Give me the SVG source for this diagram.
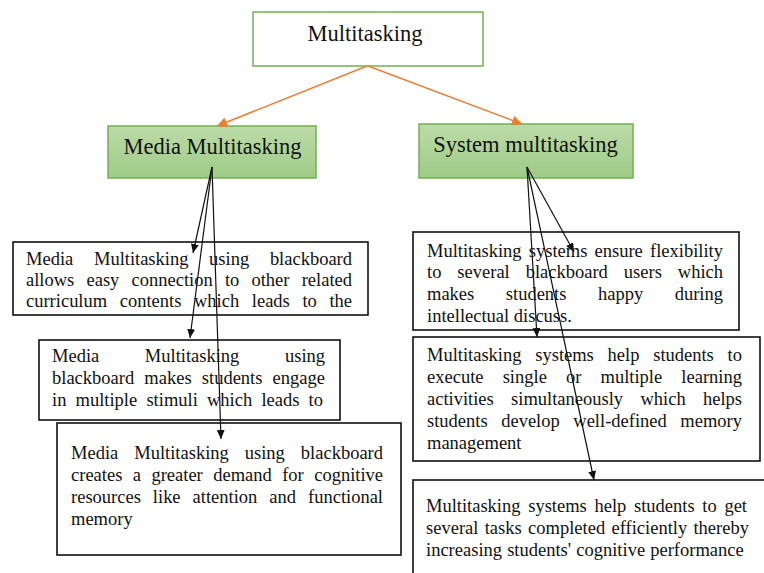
<svg xmlns="http://www.w3.org/2000/svg" width="764" height="573" viewBox="0 0 764 573">
  <style>
    .hdr { font-family: "Liberation Serif", "Times New Roman", serif; font-size: 22.5px; fill: #111; text-anchor: middle; }
    .body { font-family: "Liberation Serif", "Times New Roman", serif; font-size: 18.5px; fill: #111; }
    .gbox { fill: url(#green); stroke: #74b052; stroke-width: 1.5; }
    .wbox { fill: #fff; stroke: #74b052; stroke-width: 1.5; }
    .bbox { fill: #fff; stroke: #111; stroke-width: 1.6; }
    .orange { stroke: #ed7d31; stroke-width: 1.5; fill: none; marker-end: url(#arrO); }
    .black { stroke: #111; stroke-width: 1.2; fill: none; marker-end: url(#arrB); }
  </style>
  <defs>
    <linearGradient id="green" x1="0" y1="0" x2="0" y2="1">
      <stop offset="0" stop-color="#bcdba8"/>
      <stop offset="1" stop-color="#9ecb86"/>
    </linearGradient>
    <marker id="arrO" markerUnits="userSpaceOnUse" markerWidth="12" markerHeight="10" refX="10" refY="5" orient="auto">
      <path d="M0,0 L10,5 L0,10 Z" fill="#ed7d31"/>
    </marker>
    <marker id="arrB" markerUnits="userSpaceOnUse" markerWidth="10" markerHeight="8" refX="9" refY="4" orient="auto">
      <path d="M0,0 L9,4 L0,8 Z" fill="#111"/>
    </marker>
  </defs>
  <rect width="764" height="573" fill="#fff"/>

  <g id="multitasking">
    <rect class="wbox" x="253" y="12" width="230" height="54"/>
    <text class="hdr" x="365" y="41">Multitasking</text>
  </g>
  <g id="media-multitasking">
    <rect class="gbox" x="108" y="126" width="208" height="52"/>
    <text class="hdr" x="212.5" y="154">Media Multitasking</text>
  </g>
  <g id="system-multitasking">
    <rect class="gbox" x="419" y="124" width="214" height="54"/>
    <text class="hdr" x="525.5" y="152">System multitasking</text>
  </g>

  <g id="media-1">
    <rect class="bbox" x="13" y="242" width="355" height="73"/>
    <text class="body" x="26" y="265" word-spacing="16.1" textLength="326" lengthAdjust="spacing">Media Multitasking using blackboard</text>
    <text class="body" x="26" y="286" word-spacing="7.6" textLength="326" lengthAdjust="spacing">allows easy connection to other related</text>
    <text class="body" x="26" y="307" word-spacing="8" textLength="326" lengthAdjust="spacing">curriculum contents which leads to the</text>
  </g>
  <g id="media-2">
    <rect class="bbox" x="39" y="340" width="301" height="80"/>
    <text class="body" x="52" y="362" word-spacing="41" textLength="273" lengthAdjust="spacing">Media Multitasking using</text>
    <text class="body" x="52" y="384" word-spacing="5.5" textLength="273" lengthAdjust="spacing">blackboard makes students engage</text>
    <text class="body" x="52" y="406" word-spacing="4.6" textLength="271" lengthAdjust="spacing">in multiple stimuli which leads to</text>
  </g>
  <g id="media-3">
    <rect class="bbox" x="57" y="423" width="344" height="132"/>
    <text class="body" x="71" y="459" word-spacing="11.4" textLength="312" lengthAdjust="spacing">Media Multitasking using blackboard</text>
    <text class="body" x="71" y="481" word-spacing="5.8" textLength="312" lengthAdjust="spacing">creates a greater demand for cognitive</text>
    <text class="body" x="71" y="503" word-spacing="7.4" textLength="312" lengthAdjust="spacing">resources like attention and functional</text>
    <text class="body" x="71" y="525">memory</text>
  </g>

  <g id="system-1">
    <rect class="bbox" x="413" y="232" width="326" height="98"/>
    <text class="body" x="427" y="257" word-spacing="2.6" textLength="296" lengthAdjust="spacing">Multitasking systems ensure flexibility</text>
    <text class="body" x="427" y="278" word-spacing="11.3" textLength="296" lengthAdjust="spacing">to several blackboard users which</text>
    <text class="body" x="427" y="300" word-spacing="26.9" textLength="296" lengthAdjust="spacing">makes students happy during</text>
    <text class="body" x="427" y="322">intellectual discuss.</text>
  </g>
  <g id="system-2">
    <rect class="bbox" x="413" y="337" width="347" height="124"/>
    <text class="body" x="427" y="361" word-spacing="9.2" textLength="315" lengthAdjust="spacing">Multitasking systems help students to</text>
    <text class="body" x="427" y="383" word-spacing="14.5" textLength="315" lengthAdjust="spacing">execute single or multiple learning</text>
    <text class="body" x="427" y="405" word-spacing="12.7" textLength="315" lengthAdjust="spacing">activities simultaneously which helps</text>
    <text class="body" x="427" y="427" word-spacing="8.9" textLength="315" lengthAdjust="spacing">students develop well-defined memory</text>
    <text class="body" x="427" y="449">management</text>
  </g>
  <g id="system-3">
    <rect class="bbox" x="413" y="480" width="360" height="100"/>
    <text class="body" x="426" y="512" word-spacing="3.1" textLength="321" lengthAdjust="spacing">Multitasking systems help students to get</text>
    <text class="body" x="426" y="534" word-spacing="1.6" textLength="323" lengthAdjust="spacing">several tasks completed efficiently thereby</text>
    <text class="body" x="426" y="556" word-spacing="0.5">increasing students' cognitive performance</text>
  </g>

  <g id="connectors">
    <line class="orange" x1="367" y1="66" x2="217" y2="126"/>
    <line class="orange" x1="368" y1="66" x2="522" y2="124"/>
    <line class="black" x1="212" y1="167" x2="193" y2="253"/>
    <line class="black" x1="212" y1="167" x2="190" y2="338"/>
    <line class="black" x1="212" y1="167" x2="221" y2="439"/>
    <line class="black" x1="527" y1="167" x2="574" y2="252"/>
    <line class="black" x1="527" y1="167" x2="537" y2="337"/>
    <line class="black" x1="527" y1="167" x2="594" y2="480"/>
  </g>
</svg>
